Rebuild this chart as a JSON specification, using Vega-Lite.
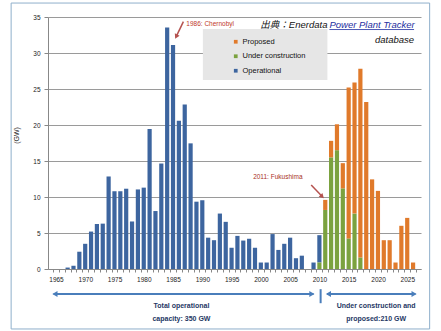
{
  "$schema": "https://vega.github.io/schema/vega-lite/v6.json",
  "width": 373,
  "height": 252,
  "autosize": "none",
  "padding": {"left": 48, "top": 17, "right": 20, "bottom": 62},
  "background": "white",
  "config": {
    "font": "Liberation Sans",
    "view": {"stroke": null},
    "axis": {"labelFont": "Liberation Sans", "labelColor": "#222", "labelFontSize": 6.5, "domainColor": "#888", "tickColor": "#888", "gridColor": "#9a9a9a"}
  },
  "datasets": {
    "capacity": [
      {"year": 1967, "status": "Operational", "gw": 0.2},
      {"year": 1968, "status": "Operational", "gw": 0.45},
      {"year": 1969, "status": "Operational", "gw": 2.4},
      {"year": 1970, "status": "Operational", "gw": 3.5},
      {"year": 1971, "status": "Operational", "gw": 5.2},
      {"year": 1972, "status": "Operational", "gw": 6.25},
      {"year": 1973, "status": "Operational", "gw": 6.3},
      {"year": 1974, "status": "Operational", "gw": 12.85},
      {"year": 1975, "status": "Operational", "gw": 10.8},
      {"year": 1976, "status": "Operational", "gw": 10.8},
      {"year": 1977, "status": "Operational", "gw": 11.15},
      {"year": 1978, "status": "Operational", "gw": 6.6},
      {"year": 1979, "status": "Operational", "gw": 11.05},
      {"year": 1980, "status": "Operational", "gw": 11.3},
      {"year": 1981, "status": "Operational", "gw": 19.45},
      {"year": 1982, "status": "Operational", "gw": 8.05},
      {"year": 1983, "status": "Operational", "gw": 14.65},
      {"year": 1984, "status": "Operational", "gw": 33.55},
      {"year": 1985, "status": "Operational", "gw": 31.1},
      {"year": 1986, "status": "Operational", "gw": 20.6},
      {"year": 1987, "status": "Operational", "gw": 22.85},
      {"year": 1988, "status": "Operational", "gw": 17.45},
      {"year": 1989, "status": "Operational", "gw": 9.35},
      {"year": 1990, "status": "Operational", "gw": 9.55},
      {"year": 1991, "status": "Operational", "gw": 4.35},
      {"year": 1992, "status": "Operational", "gw": 4.0},
      {"year": 1993, "status": "Operational", "gw": 7.7},
      {"year": 1994, "status": "Operational", "gw": 6.55},
      {"year": 1995, "status": "Operational", "gw": 2.95},
      {"year": 1996, "status": "Operational", "gw": 4.6},
      {"year": 1997, "status": "Operational", "gw": 3.95},
      {"year": 1998, "status": "Operational", "gw": 4.2},
      {"year": 1999, "status": "Operational", "gw": 2.95},
      {"year": 2000, "status": "Operational", "gw": 0.9},
      {"year": 2001, "status": "Operational", "gw": 0.9},
      {"year": 2002, "status": "Operational", "gw": 4.85},
      {"year": 2003, "status": "Operational", "gw": 2.65},
      {"year": 2004, "status": "Operational", "gw": 3.5},
      {"year": 2005, "status": "Operational", "gw": 4.35},
      {"year": 2006, "status": "Operational", "gw": 1.5},
      {"year": 2007, "status": "Operational", "gw": 1.85},
      {"year": 2009, "status": "Operational", "gw": 0.9},
      {"year": 2010, "status": "Operational", "gw": 3.8},
      {"year": 2010, "status": "Under construction", "gw": 0.9},
      {"year": 2011, "status": "Under construction", "gw": 8.2},
      {"year": 2012, "status": "Under construction", "gw": 15.5},
      {"year": 2013, "status": "Under construction", "gw": 16.5},
      {"year": 2014, "status": "Under construction", "gw": 11.2},
      {"year": 2015, "status": "Under construction", "gw": 4.25},
      {"year": 2016, "status": "Under construction", "gw": 7.7},
      {"year": 2017, "status": "Under construction", "gw": 1.6},
      {"year": 2011, "status": "Proposed", "gw": 1.4},
      {"year": 2012, "status": "Proposed", "gw": 2.3},
      {"year": 2013, "status": "Proposed", "gw": 3.6},
      {"year": 2014, "status": "Proposed", "gw": 3.5},
      {"year": 2015, "status": "Proposed", "gw": 20.95},
      {"year": 2016, "status": "Proposed", "gw": 18.2},
      {"year": 2017, "status": "Proposed", "gw": 26.2},
      {"year": 2018, "status": "Proposed", "gw": 23.2},
      {"year": 2019, "status": "Proposed", "gw": 12.45},
      {"year": 2020, "status": "Proposed", "gw": 10.85},
      {"year": 2021, "status": "Proposed", "gw": 4.0},
      {"year": 2022, "status": "Proposed", "gw": 4.0},
      {"year": 2023, "status": "Proposed", "gw": 0.9},
      {"year": 2024, "status": "Proposed", "gw": 6.0},
      {"year": 2025, "status": "Proposed", "gw": 7.1},
      {"year": 2026, "status": "Proposed", "gw": 0.9}
    ]
  },
  "encoding": {
    "x": {
      "field": "year", "type": "quantitative",
      "scale": {"domain": [1964.5, 2026.5], "nice": false, "zero": false},
      "axis": {
        "title": null, "grid": false,
        "values": [1964.5,1965.5,1966.5,1967.5,1968.5,1969.5,1970.5,1971.5,1972.5,1973.5,1974.5,1975.5,1976.5,1977.5,1978.5,1979.5,1980.5,1981.5,1982.5,1983.5,1984.5,1985.5,1986.5,1987.5,1988.5,1989.5,1990.5,1991.5,1992.5,1993.5,1994.5,1995.5,1996.5,1997.5,1998.5,1999.5,2000.5,2001.5,2002.5,2003.5,2004.5,2005.5,2006.5,2007.5,2008.5,2009.5,2010.5,2011.5,2012.5,2013.5,2014.5,2015.5,2016.5,2017.5,2018.5,2019.5,2020.5,2021.5,2022.5,2023.5,2024.5,2025.5,2026.5],
        "labelExpr": "(datum.value + 0.5) % 5 == 0 ? format(datum.value + 0.5, 'd') : ''",
        "labelOffset": 3, "labelFlush": false, "labelOverlap": false, "labelBound": false,
        "tickSize": 3, "labelPadding": 4
      }
    },
    "y": {
      "field": "gw", "type": "quantitative",
      "scale": {"domain": [0, 35], "nice": false, "zero": false},
      "axis": {
        "title": "(GW)", "titleFontSize": 7, "titleFontWeight": "normal", "titleColor": "#222",
        "titleX": -32, "titleY": 118, "titleAngle": -90, "titleAlign": "center", "titleBaseline": "middle",
        "values": [0, 5, 10, 15, 20, 25, 30, 35], "format": "d",
        "grid": true, "tickSize": 4, "labelPadding": 4
      }
    }
  },
  "layer": [
    {
      "data": {"name": "capacity"},
      "mark": {"type": "bar", "width": 4.2},
      "encoding": {
        "color": {
          "field": "status", "type": "nominal",
          "sort": ["Proposed", "Under construction", "Operational"],
          "scale": {"domain": ["Proposed", "Under construction", "Operational"], "range": ["#E07A2B", "#7BA23F", "#3D659F"]},
          "legend": {
            "title": null, "orient": "none", "legendX": 184, "legendY": 21,
            "symbolType": "square", "symbolSize": 14, "symbolStrokeWidth": 0,
            "labelFontSize": 7.5, "labelColor": "#111", "rowPadding": 5.5, "labelOffset": 3, "padding": 0
          }
        }
      }
    },
    {
      "data": {"values": [{"year": 1957.35, "year2": 2028.83, "gw": 36.94, "gw2": -8.33}]},
      "mark": {"type": "rect", "fillOpacity": 0, "stroke": "#8FAFCB", "strokeWidth": 1},
      "encoding": {"x2": {"field": "year2"}, "y2": {"field": "gw2"}}
    },
    {
      "data": {"values": [{"year": 1990.1, "year2": 2011.37, "gw": 33.33, "gw2": 26.25}]},
      "mark": {"type": "rect", "fill": "#e6e6e6"},
      "encoding": {"x2": {"field": "year2"}, "y2": {"field": "gw2"}}
    },
    {
      "data": {"values": [
        {"year": 1986.77, "gw": 34.35, "year2": 1985.54, "gw2": 32.28},
        {"year": 2008.6, "gw": 11.67, "year2": 2010.48, "gw2": 10.06}
      ]},
      "mark": {"type": "rule", "color": "#B5524F", "strokeWidth": 1.5},
      "encoding": {"x2": {"field": "year2"}, "y2": {"field": "gw2"}}
    },
    {
      "data": {"values": [{"year": 1985.54, "gw": 32.28}]},
      "mark": {"type": "point", "shape": "triangle-up", "angle": 206, "size": 28, "filled": true, "color": "#B5524F", "opacity": 1},
      "encoding": {}
    },
    {
      "data": {"values": [{"year": 2010.48, "gw": 10.06}]},
      "mark": {"type": "point", "shape": "triangle-up", "angle": 135, "size": 28, "filled": true, "color": "#B5524F", "opacity": 1},
      "encoding": {}
    },
    {
      "data": {"values": [
        {"year": 1964.6, "year2": 2009.0, "gw": -3.47, "gw2": -3.47},
        {"year": 2011.3, "year2": 2026.4, "gw": -3.47, "gw2": -3.47},
        {"year": 2010.21, "year2": 2010.21, "gw": -2.8, "gw2": -4.75}
      ]},
      "mark": {"type": "rule", "color": "#4A7EBB", "strokeWidth": 2},
      "encoding": {"x2": {"field": "year2"}, "y2": {"field": "gw2"}}
    },
    {
      "data": {"values": [{"year": 1964.83, "gw": -3.47}, {"year": 2011.54, "gw": -3.47}]},
      "mark": {"type": "point", "shape": "triangle-left", "size": 36, "filled": true, "color": "#4A7EBB", "opacity": 1},
      "encoding": {}
    },
    {
      "data": {"values": [{"year": 2008.72, "gw": -3.47}, {"year": 2026.17, "gw": -3.47}]},
      "mark": {"type": "point", "shape": "triangle-right", "size": 36, "filled": true, "color": "#4A7EBB", "opacity": 1},
      "encoding": {}
    },
    {
      "data": {"values": [
        {"year": 1986.44, "gw": -5.14, "label": "Total operational"},
        {"year": 1986.44, "gw": -6.88, "label": "capacity:  350 GW"},
        {"year": 2019.69, "gw": -5.14, "label": "Under construction and"},
        {"year": 2019.69, "gw": -6.88, "label": "proposed:210 GW"}
      ]},
      "mark": {"type": "text", "fontSize": 7, "fontWeight": "bold", "color": "#1F3864", "align": "center", "baseline": "middle"},
      "encoding": {"text": {"field": "label"}}
    },
    {
      "data": {"values": [{"year": 1987.27, "gw": 34.03, "label": "1986: Chernobyl"}]},
      "mark": {"type": "text", "fontSize": 6.5, "color": "#C0392B", "align": "left", "baseline": "middle"},
      "encoding": {"text": {"field": "label"}}
    },
    {
      "data": {"values": [{"year": 2002.9, "gw": 12.74, "label": "2011: Fukushima"}]},
      "mark": {"type": "text", "fontSize": 6.5, "color": "#A93226", "align": "center", "baseline": "middle"},
      "encoding": {"text": {"field": "label"}}
    },
    {
      "data": {"values": [{"year": 2011.37, "gw": 33.89, "label": "出典：Enerdata"}, {"year": 2026.17, "gw": 31.81, "label": "database"}]},
      "mark": {"type": "text", "fontSize": 9.5, "fontStyle": "italic", "color": "#111", "align": "right", "baseline": "middle", "font": "Liberation Sans, Noto Sans CJK JP"},
      "encoding": {"text": {"field": "label"}}
    },
    {
      "data": {"values": [{"year": 2011.71, "gw": 33.89, "label": "Power Plant Tracker"}]},
      "mark": {"type": "text", "fontSize": 9.5, "fontStyle": "italic", "color": "#1F2F9F", "align": "left", "baseline": "middle"},
      "encoding": {"text": {"field": "label"}}
    },
    {
      "data": {"values": [{"year": 2011.71, "year2": 2026.17, "gw": 33.26, "gw2": 33.26}]},
      "mark": {"type": "rule", "color": "#1F2F9F", "strokeWidth": 0.8},
      "encoding": {"x2": {"field": "year2"}, "y2": {"field": "gw2"}}
    }
  ]
}
